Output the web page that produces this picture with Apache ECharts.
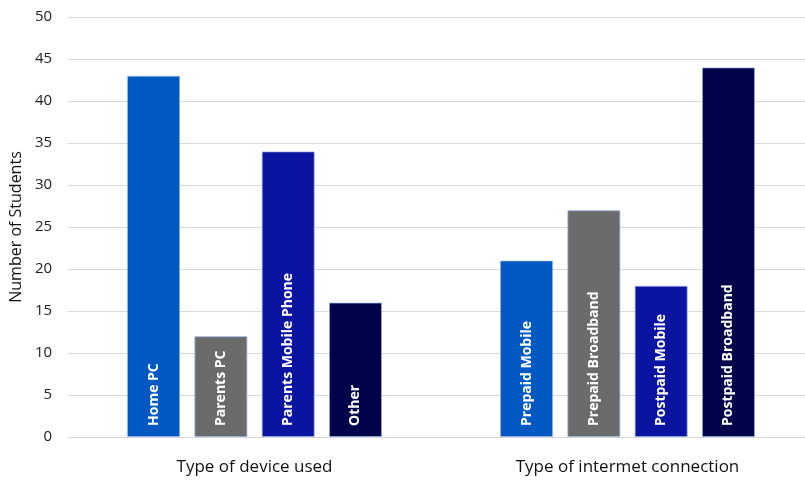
<!DOCTYPE html>
<html>
<head>
<meta charset="utf-8">
<script src="https://cdn.jsdelivr.net/npm/echarts@6/dist/echarts.min.js"></script>
<style>
  html, body { margin: 0; padding: 0; background: #ffffff; overflow: hidden; }
  /* the plot runs a little past the right edge of the window */
  #chart { width: 814px; height: 480px; }
</style>
</head>
<body>
<div id="chart"></div>
<script>
// Survey groups along the x axis
const categories = ['Type of device used', 'Type of intermet connection'];

// Bar names per position, one row per group
const barNames = [
  ['Home PC', 'Parents PC', 'Parents Mobile Phone', 'Other'],
  ['Prepaid Mobile', 'Prepaid Broadband', 'Postpaid Mobile', 'Postpaid Broadband']
];

// Student counts, one array per bar position across the two groups
const position1 = [43, 21];
const position2 = [12, 27];
const position3 = [34, 18];
const position4 = [16, 44];

const colors = ['#0058C3', '#6B6B6B', '#0A14A0', '#02024A'];
const positions = [position1, position2, position3, position4];

const chart = echarts.init(document.getElementById('chart'), null, { renderer: 'canvas' });

const series = positions.map((vals, i) => ({
  type: 'bar',
  data: vals,
  barWidth: 53,
  barGap: '27%',
  itemStyle: {
    color: colors[i],
    borderColor: 'rgba(150,175,225,0.7)',
    borderWidth: 1
  },
  label: {
    show: true,
    position: 'insideBottom',
    rotate: 90,
    align: 'left',
    verticalAlign: 'middle',
    distance: 11,
    color: '#ffffff',
    fontFamily: 'Open Sans',
    fontWeight: 'bold',
    fontSize: 14,
    formatter: p => barNames[p.dataIndex][i]
  }
}));

chart.setOption({
  animation: false,
  grid: { left: 67, top: 17, right: 0, bottom: 43, containLabel: false },
  xAxis: {
    type: 'category',
    data: categories,
    axisLine: { show: false },
    axisTick: { show: false },
    axisLabel: {
      margin: 22,
      color: '#111111',
      fontFamily: 'Open Sans',
      fontSize: 17
    }
  },
  yAxis: {
    type: 'value',
    min: 0,
    max: 50,
    interval: 5,
    name: 'Number of Students',
    nameLocation: 'middle',
    nameGap: 41,
    nameTextStyle: { color: '#111111', fontFamily: 'Open Sans', fontSize: 16 },
    axisLine: { show: false },
    axisTick: { show: false },
    axisLabel: { color: '#222222', fontFamily: 'Open Sans', fontSize: 15, margin: 16 },
    splitLine: { lineStyle: { color: '#d9d9d9', width: 1 } }
  },
  series: series
});
</script>
</body>
</html>
